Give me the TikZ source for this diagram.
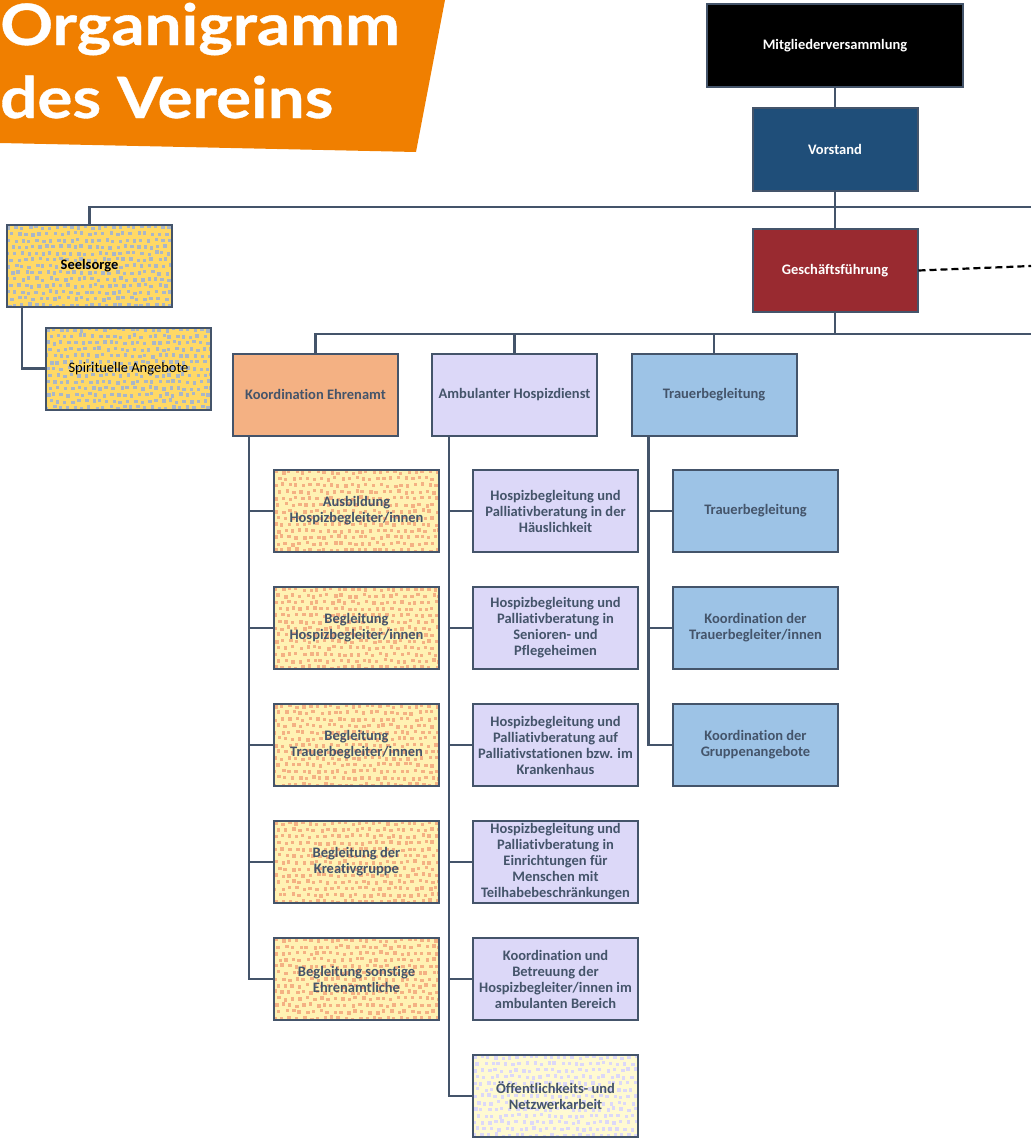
\documentclass[tikz,border=0pt]{standalone}
\usepackage{fontspec}
\setmainfont{Carlito}[Ligatures=NoCommon]
\newfontfamily\titlefont{Lato}[FakeStretch=1.15, FakeBold=0.6]
\definecolor{lc}{HTML}{44546A}
\definecolor{tc}{HTML}{44546A}
\definecolor{ttl}{HTML}{F07F00}
\definecolor{vblue}{HTML}{1F4E79}
\definecolor{gfred}{HTML}{992A30}
\definecolor{keor}{HTML}{F4B183}
\definecolor{lav}{HTML}{DCD8F8}
\definecolor{tblue}{HTML}{9DC3E6}
\definecolor{sgold}{HTML}{FFD966}
\definecolor{sgrey}{HTML}{A9B6C8}
\definecolor{lyel}{HTML}{FFF2B3}
\definecolor{pyel}{HTML}{FFFAD2}
\newcommand\confetti[1]{%
  \foreach \j in {0,...,13}{%
    \foreach \i in {0,...,24}{%
      \pgfmathsetmacro\px{\i*7+mod(\j,2)*3.5+rnd*3-1.5}%
      \pgfmathsetmacro\py{\j*6.5+rnd*2.5-1.25}%
      \fill[#1] ([shift={(\px pt,\py pt)}]path picture bounding box.south west) rectangle ++(3.4pt,3.4pt);
    }}}
\begin{document}
\begin{tikzpicture}[x=1pt,y=-1pt,
  box/.style={draw=lc, line width=2pt, minimum width=165pt, minimum height=82pt,
    align=center, inner sep=2pt, font=\bfseries\fontsize{14.5}{16}\selectfont, text=tc},
  conn/.style={draw=lc, line width=2.5pt},
  ttext/.style={text=white, font=\titlefont\bfseries\fontsize{57}{60}\selectfont, inner sep=0pt, anchor=base west},
  conf/.style={path picture={\confetti{#1}}}]
\pgfmathsetseed{7}
\useasboundingbox (0,0) rectangle (1031,1138);
% title
\fill[ttl] (0,0) -- (445,0) -- (416,152) -- (0,143) -- cycle;
\node[ttext] (t1) at (0,45) {Organigramm};
\node[ttext] (t2) at (0,118) {des Vereins};
% right edge coordinates
\coordinate (r1) at (1031,207);
\coordinate (r2) at (1031,266);
\coordinate (r3) at (1031,334);
% top nodes
\node[box, fill=black, text=white, minimum width=256pt, minimum height=83pt] (mv) at (835,45.5) {Mitgliederversammlung};
\node[box, fill=vblue, text=white, minimum height=83pt] (vs) at (835,149.5) {Vorstand};
\node[box, fill=gfred, text=white, minimum height=83pt] (gf) at (835,270.5) {Geschäftsführung};
% Seelsorge
\node[box, fill=sgold, conf=sgrey, text=black] (sl) at (89.5,266) {Seelsorge};
\node[box, fill=sgold, conf=sgrey, text=black, font=\fontsize{14.5}{16}\selectfont] (sp) at (128.5,368.5) {Spirituelle Angebote};
% departments
\node[box, fill=keor] (ke) at (315.5,394.5) {Koordination Ehrenamt};
\node[box, fill=lav] (ah) at (514.5,394.5) {Ambulanter Hospizdienst};
\node[box, fill=tblue] (tb) at (714,394.5) {Trauerbegleitung};
% Koordination Ehrenamt children
\node[box, fill=lyel, conf=keor] (k1) at (356.5,511) {Ausbildung\\Hospizbegleiter/innen};
\node[box, fill=lyel, conf=keor] (k2) at (356.5,628) {Begleitung\\Hospizbegleiter/innen};
\node[box, fill=lyel, conf=keor] (k3) at (356.5,745) {Begleitung\\Trauerbegleiter/innen};
\node[box, fill=lyel, conf=keor] (k4) at (356.5,862) {Begleitung der\\Kreativgruppe};
\node[box, fill=lyel, conf=keor] (k5) at (356.5,979) {Begleitung sonstige\\Ehrenamtliche};
% Ambulanter children
\node[box, fill=lav] (a1) at (555.5,511) {Hospizbegleitung und\\Palliativberatung in der\\Häuslichkeit};
\node[box, fill=lav] (a2) at (555.5,628) {Hospizbegleitung und\\Palliativberatung in\\Senioren- und\\Pflegeheimen};
\node[box, fill=lav] (a3) at (555.5,745) {Hospizbegleitung und\\Palliativberatung auf\\Palliativstationen bzw. im\\Krankenhaus};
\node[box, fill=lav] (a4) at (555.5,862) {Hospizbegleitung und\\Palliativberatung in\\Einrichtungen für\\Menschen mit\\Teilhabebeschränkungen};
\node[box, fill=lav] (a5) at (555.5,979) {Koordination und\\Betreuung der\\Hospizbegleiter/innen im\\ambulanten Bereich};
\node[box, fill=pyel, conf=lav] (a6) at (555.5,1096) {Öffentlichkeits- und\\Netzwerkarbeit};
% Trauer children
\node[box, fill=tblue] (t1b) at (755.5,511) {Trauerbegleitung};
\node[box, fill=tblue] (t2b) at (755.5,628) {Koordination der\\Trauerbegleiter/innen};
\node[box, fill=tblue] (t3b) at (755.5,745) {Koordination der\\Gruppenangebote};
% connectors
\draw[conn] (mv) -- (vs);
\draw[conn] (vs) -- (gf);
\draw[conn] (sl.north) |- (r1);
\draw[dash pattern=on 7pt off 4pt, line width=2.2pt] (gf.east) -- (r2);
\draw[conn] (gf.south) -- (gf.south |- r3);
\draw[conn] (ke.north) |- (r3);
\draw[conn] (ah.north) -- (ah.north |- r3);
\draw[conn] (tb.north) -- (tb.north |- r3);
\draw[conn] ([xshift=16pt]sl.south west) |- (sp.west);
\foreach \n in {k1,k2,k3,k4,k5}{\draw[conn] ([xshift=17pt]ke.south west) |- (\n.west);}
\foreach \n in {a1,a2,a3,a4,a5,a6}{\draw[conn] ([xshift=18pt]ah.south west) |- (\n.west);}
\foreach \n in {t1b,t2b,t3b}{\draw[conn] ([xshift=18pt]tb.south west) |- (\n.west);}
\end{tikzpicture}
\end{document}
